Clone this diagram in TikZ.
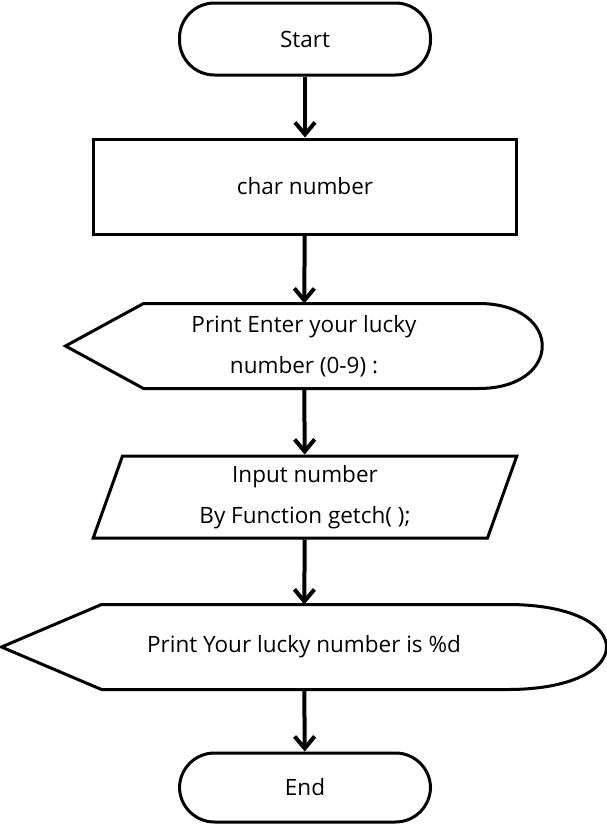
\documentclass[tikz,border=0pt]{standalone}
\usepackage{fontspec}
\setmainfont{Open Sans}
\usetikzlibrary{arrows.meta, shapes.geometric}
\tikzset{>={Straight Barb[length=12pt,width=20pt]}}

\begin{document}
\begin{tikzpicture}[x=1pt, y=-1pt, line width=3pt,
    font=\fontsize{22.5}{41}\selectfont,
    term/.style={draw, rounded corners=35pt, minimum width=251pt, minimum height=72pt},
    proc/.style={draw, minimum width=423pt, minimum height=95pt},
    inout/.style={draw, trapezium, trapezium left angle=76, trapezium right angle=104,
        trapezium stretches=true, minimum width=424pt, minimum height=82pt, align=center},
    disp/.style={minimum height=82pt, align=center},
    flow/.style={->, line width=4pt}]
    \useasboundingbox (0,0) rectangle (607,828);
    % nodes
    \node [term] (start) at (305,39) {Start};
    \node [proc] (decl) at (305,186.5) {char number};
    \node [disp, minimum width=474pt] (ask) at (304,346) {Print Enter your lucky\\number (0-9) :};
    \node [inout] (getnum) at (305,497) {Input number\\By Function getch( );};
    \node [disp, minimum width=602pt] (show) at (304,647) {Print Your lucky number is \%d};
    \node [term, minimum height=69pt] (stop) at (305,787.5) {End};
    % display outlines
    \draw (ask.west) -- ([xshift=78pt]ask.north west) -- ([xshift=-64pt]ask.north east)
        .. controls ([xshift=21pt]ask.north east) and ([xshift=21pt]ask.south east) .. ([xshift=-64pt]ask.south east)
        -- ([xshift=78pt]ask.south west) -- cycle;
    \draw (show.west) -- ([xshift=100pt]show.north west) -- ([xshift=-99pt]show.north east)
        .. controls ([xshift=33pt]show.north east) and ([xshift=33pt]show.south east) .. ([xshift=-99pt]show.south east)
        -- ([xshift=100pt]show.south west) -- cycle;
    % connectors
    \draw [flow] (start) -- (decl);
    \draw [flow] (decl) -- (ask);
    \draw [flow] (ask) -- (getnum);
    \draw [flow] (getnum) -- (show);
    \draw [flow] (show) -- (stop);
\end{tikzpicture}
\end{document}
